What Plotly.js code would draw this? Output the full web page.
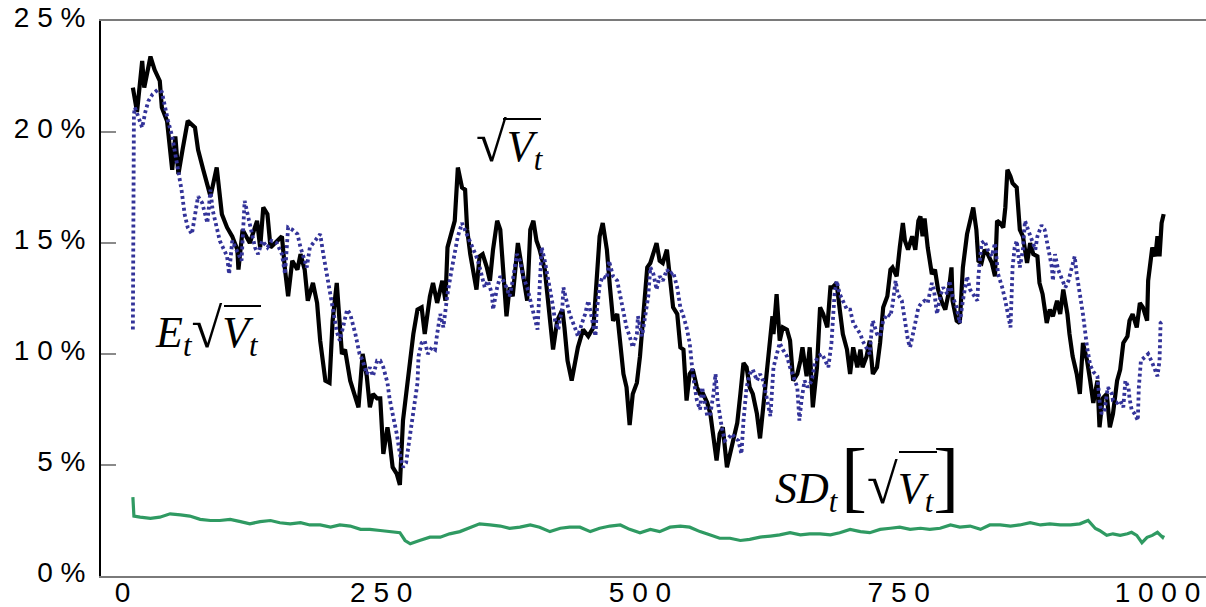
<!DOCTYPE html>
<html><head><meta charset="utf-8">
<script src="https://cdn.plot.ly/plotly-3.0.1.min.js"></script>
<style>html,body{margin:0;padding:0;background:#fff}#chart{width:1206px;height:607px}</style>
</head><body><div id="chart"></div>
<script>
// sqrt(V_t) — black solid
const volX = [10,14,19,21,27,31,36,38,43,48,51,54,58,63,70,73,78,82,85,91,96,101,106,111,112,116,123,130,133,136,140,143,149,154,157,160,164,169,172,176,179,184,188,191,196,200,203,207,212,215,220,225,228,232,236,239,242,246,249,252,256,258,261,265,268,271,275,278,281,285,289,292,297,300,304,309,312,314,318,321,324,328,331,333,336,339,342,345,348,352,355,358,362,365,368,371,374,377,382,386,391,394,397,400,403,408,413,416,420,425,427,430,434,437,440,445,450,455,458,461,464,468,471,474,478,481,484,487,490,493,497,500,503,507,510,513,516,519,522,526,529,532,536,539,542,545,548,551,555,558,561,565,568,571,574,577,580,584,587,590,594,597,600,603,606,609,613,616,619,623,626,628,629,632,635,638,642,645,648,652,655,657,661,664,667,671,674,677,681,684,686,690,693,696,700,703,706,710,713,715,719,722,725,729,732,735,739,742,744,748,751,754,756,759,763,766,769,771,773,775,778,782,785,788,792,795,798,801,802,806,809,812,816,819,822,825,827,830,833,836,840,843,845,848,851,853,855,858,860,864,867,870,874,877,880,884,886,889,893,896,899,903,906,909,913,915,918,922,925,928,932,935,938,942,944,947,951,954,957,961,964,967,971,973,976,980,983,986,990,991,995,998,1000,1002,1004,1006];
const volY = [22.0,20.9,23.2,22.0,23.4,22.8,22.3,21.1,20.5,18.3,19.8,18.1,19.2,20.5,20.2,19.2,18.3,17.7,17.1,18.4,16.3,15.7,15.3,14.7,13.8,15.6,15.0,16.0,14.8,16.6,16.3,14.8,15.1,15.3,13.8,12.6,14.2,13.8,14.5,13.8,12.4,13.2,12.3,10.6,8.8,8.7,11.5,13.2,10.0,10.2,8.8,8.0,7.6,10.0,9.0,7.6,8.2,8.0,8.0,5.5,6.7,6.1,4.9,4.6,4.1,7.0,8.5,9.6,10.9,12.0,12.1,10.9,12.6,13.2,12.3,13.3,12.4,14.8,15.6,16.0,18.4,17.5,17.4,15.6,14.5,13.6,12.9,14.4,14.5,13.9,13.3,14.7,16.0,15.6,13.8,11.7,13.0,12.6,15.0,13.8,12.4,15.6,16.0,15.1,14.7,13.8,11.8,10.2,11.5,12.0,11.2,9.7,8.8,9.7,10.3,11.1,10.8,11.2,13.2,15.3,15.9,14.7,13.0,11.5,11.8,10.6,9.1,8.5,6.8,8.2,8.7,9.9,11.7,13.9,14.1,14.5,15.0,14.2,14.1,14.7,13.2,12.1,11.8,10.3,10.2,7.9,9.1,9.3,8.5,8.2,8.2,7.8,7.3,6.4,5.2,6.4,6.7,4.9,5.5,6.1,6.9,8.2,9.6,9.4,8.5,8.2,7.3,6.2,7.6,9.4,11.2,11.7,10.9,12.7,10.6,11.2,11.1,10.6,8.8,9.1,9.7,10.3,9.0,10.3,7.6,9.4,12.1,11.8,11.2,13.0,13.0,13.2,12.0,10.9,10.2,9.1,10.3,9.4,10.2,9.4,9.9,10.6,9.1,9.4,10.5,12.1,12.6,13.8,13.9,13.5,14.8,15.9,15.1,14.7,15.3,14.7,16.0,16.2,15.3,16.1,14.8,13.6,13.8,12.9,12.3,12.0,12.7,13.9,12.4,11.5,11.4,13.9,15.4,16.0,16.6,15.6,14.2,14.1,14.7,14.5,14.1,13.5,16.0,15.9,15.7,16.6,18.3,18.0,17.7,17.5,15.6,15.3,14.1,15.0,14.5,14.4,13.2,12.7,11.4,12.0,11.7,12.4,11.8,12.9,11.8,10.9,9.9,9.1,8.2,10.5,9.7,8.8,7.8,8.8,6.7,8.0,8.2,6.7,7.3,8.8,9.3,10.5,10.8,11.5,11.8,11.2,12.3,12.1,11.5,13.3,14.8,14.4,15.3,14.4,15.9,16.3];

// E_t sqrt(V_t) — blue dotted
const estX = [10,11,12,15,19,22,25,29,34,38,41,44,48,51,54,57,60,63,67,70,73,77,80,82,85,87,91,94,97,101,103,106,109,112,115,118,121,125,128,131,135,140,144,149,154,157,160,164,169,172,174,178,181,186,191,194,197,200,203,207,210,217,220,225,229,232,236,239,242,246,249,252,256,258,261,265,268,271,274,277,281,285,286,289,292,295,299,302,304,307,310,312,314,318,321,324,328,331,334,338,341,344,347,350,353,357,358,362,365,368,371,374,377,381,384,387,391,394,397,401,403,405,408,411,415,418,421,425,426,429,432,437,440,444,447,450,454,457,458,461,464,468,470,474,478,481,484,487,490,493,497,498,502,505,508,510,513,516,519,522,526,529,532,536,539,542,545,548,551,555,558,560,563,565,568,571,573,575,579,582,585,589,592,595,598,600,603,606,609,613,616,619,623,626,629,632,635,638,642,645,648,652,654,656,659,662,666,669,672,676,679,682,685,688,690,693,696,700,703,706,710,713,715,719,722,724,725,729,732,735,739,742,744,747,749,753,756,759,761,764,766,769,772,775,778,782,784,787,790,793,797,799,802,806,809,812,816,819,822,826,827,830,833,836,840,843,846,850,853,856,858,860,862,864,867,870,872,875,879,882,884,888,891,894,898,899,901,904,908,911,914,918,920,922,925,928,932,935,938,942,944,946,949,952,956,957,961,964,967,969,972,973,975,978,981,982,984,988,991,995,998,1000,1002,1003,1006];
const estY = [11.1,20.8,21.1,20.7,20.2,20.9,21.4,21.7,21.9,21.8,21.1,20.5,19.8,19.0,18.1,17.4,16.3,15.7,15.4,16.3,17.1,16.8,16.3,15.9,17.4,16.5,15.7,15.1,14.8,14.4,13.6,15.1,14.8,14.5,14.2,16.9,16.3,15.4,14.8,14.5,15.1,14.8,15.1,15.0,14.5,13.6,15.7,15.6,15.4,14.8,14.5,13.9,14.8,15.1,15.4,14.5,13.6,12.9,12.1,11.0,10.6,12.0,11.8,10.9,10.0,9.7,9.1,9.4,9.0,9.7,9.7,9.4,8.7,8.0,7.3,6.4,5.5,4.9,5.1,6.1,7.3,8.7,9.9,10.5,10.6,10.0,10.3,10.2,10.9,11.8,11.2,12.0,12.7,13.8,14.5,15.3,15.9,15.6,15.3,14.8,14.5,14.1,13.5,13.0,13.3,12.7,12.0,13.0,13.5,13.3,13.0,12.6,13.3,14.5,14.2,13.5,13.0,12.4,11.8,11.1,13.0,14.8,14.2,13.5,12.4,11.5,11.1,12.1,13.0,12.4,11.8,11.2,10.8,11.4,11.8,12.4,11.5,10.8,11.8,13.1,13.5,13.4,14.2,13.5,13.3,12.6,11.8,11.2,10.8,10.3,10.9,11.7,10.8,11.7,12.6,13.9,13.6,12.9,13.5,13.3,13.8,13.6,13.7,13.0,12.1,11.7,11.2,10.5,9.1,7.9,7.5,8.5,7.8,7.2,7.3,8.2,9.1,7.9,6.7,6.1,6.2,6.4,6.2,6.1,5.5,7.0,8.5,9.1,9.3,8.8,9.1,8.8,7.9,7.2,9.4,10.0,10.5,10.2,9.9,9.4,9.0,8.5,7.0,7.9,8.8,8.5,8.8,9.6,9.9,10.0,9.7,9.4,10.5,12.7,13.3,12.7,12.4,12.0,12.0,11.4,11.1,10.9,10.6,10.3,10.0,11.2,11.5,10.9,10.8,11.5,11.8,11.7,12.2,13.3,12.7,12.4,11.5,10.6,10.3,10.9,11.4,12.1,12.3,12.4,12.3,13.2,12.9,11.8,12.6,13.0,12.7,13.3,12.6,12.1,11.4,12.4,13.5,12.9,12.7,12.4,13.5,15.0,15.1,14.7,14.4,15.0,13.6,13.0,12.4,11.7,11.2,13.9,14.8,15.1,13.9,14.7,16.0,15.6,15.1,14.7,15.3,15.8,15.6,14.8,13.9,13.3,14.5,13.8,13.3,13.0,13.3,14.1,14.4,13.6,12.8,11.8,10.3,9.5,9.2,9.0,7.9,7.3,7.5,8.5,8.2,7.9,7.8,7.9,7.6,8.8,8.5,8.0,7.5,7.3,7.0,8.5,9.7,9.9,10.0,9.6,9.3,9.0,9.7,11.4,11.5];

// SD_t[sqrt(V_t)] — green
const sdX = [10,11,17,27,36,46,56,65,75,85,94,104,114,123,133,143,152,162,172,181,191,201,210,220,230,239,249,258,268,273,278,287,297,307,316,326,336,345,355,365,374,384,394,403,413,423,432,442,452,461,471,481,490,500,510,519,529,539,548,558,568,577,587,597,606,616,626,635,645,655,664,674,684,693,703,713,722,732,742,751,761,771,780,790,800,809,819,829,838,848,858,867,877,887,896,906,916,925,933,940,944,951,957,964,971,975,980,985,990,995,1000,1005,1006];
const sdY = [3.55,2.7,2.65,2.6,2.65,2.8,2.75,2.7,2.55,2.5,2.5,2.55,2.45,2.35,2.45,2.5,2.4,2.35,2.4,2.3,2.3,2.2,2.3,2.25,2.1,2.1,2.05,2.0,1.95,1.6,1.45,1.6,1.75,1.75,1.9,2.0,2.2,2.35,2.3,2.25,2.15,2.2,2.3,2.2,2.0,2.15,2.2,2.2,2.0,2.15,2.25,2.3,2.1,1.95,2.1,2.0,2.2,2.25,2.2,2.0,1.85,1.7,1.7,1.6,1.65,1.75,1.8,1.85,1.95,1.85,1.9,1.9,1.85,1.95,2.1,2.0,1.95,2.1,2.15,2.2,2.1,2.15,2.1,2.15,2.3,2.2,2.25,2.1,2.3,2.3,2.25,2.3,2.4,2.3,2.35,2.3,2.3,2.35,2.5,2.14,2.05,1.83,1.9,1.83,1.9,1.97,1.83,1.5,1.74,1.83,1.97,1.74,1.83];

const yTickVals = [0,5,10,15,20,25];
const yTickText = ['0 %','5 %','1 0 %','1 5 %','2 0 %','2 5 %'];
const xTickVals = [0,250,500,750,1000];
const xTickText = ['0','2 5 0','5 0 0','7 5 0','1 0 0 0'];

// layout helpers (pixel -> paper)
const L = 101, T = 21, PW = 1105, PH = 555;
const px = v => (v - L) / PW;
const py = v => (T + PH - v) / PH;

const traces = [
  {x: sdX, y: sdY, type: 'scatter', mode: 'lines', line: {color: '#2f9a62', width: 3.2}, hoverinfo: 'skip'},
  {x: volX, y: volY, type: 'scatter', mode: 'lines', line: {color: '#000000', width: 4.2}, hoverinfo: 'skip'},
  {x: estX, y: estY, type: 'scatter', mode: 'lines', line: {color: '#333399', width: 3.8, dash: '3px,3px'}, hoverinfo: 'skip'}
];

const mathFont = {family: 'Liberation Serif, Times New Roman, serif', size: 44, color: '#000'};
const ann = (x, y, text, extra) => Object.assign({xref: 'paper', yref: 'paper', x: px(x), y: py(y), xanchor: 'left', yanchor: 'middle', text: text, showarrow: false, font: mathFont}, extra || {});
const RAD = '<span style="font-size:56px">√</span>';
const BR = s => '<span style="font-family:Liberation Serif;font-size:78px">' + s + '</span>';

const layout = {
  width: 1206, height: 607,
  margin: {l: L, r: 0, t: T, b: 607 - T - PH},
  paper_bgcolor: '#fff', plot_bgcolor: '#fff',
  showlegend: false,
  font: {family: 'Liberation Sans, Arial, sans-serif', size: 28, color: '#000'},
  xaxis: {
    range: [-20.8, 1046.9], showgrid: false, zeroline: false,
    tickvals: xTickVals, ticktext: xTickText, ticks: '',
    showline: true, mirror: true, linecolor: '#7a7a7a', linewidth: 2,
    ticklabelstandoff: -10,
    tickfont: {size: 28, color: '#000'}
  },
  yaxis: {
    range: [0, 25], showgrid: false, zeroline: false,
    tickvals: yTickVals, ticktext: yTickText,
    ticks: 'inside', ticklen: 15, tickwidth: 2, tickcolor: '#8a8a8a',
    showline: true, linecolor: '#000', linewidth: 2,
    ticklabelstandoff: 8, ticklabelshift: -4,
    tickfont: {size: 28, color: '#000'}
  },
  annotations: [
    ann(474, 144, RAD + '<i>V</i><sub><i>t</i></sub>'),
    ann(153, 330, '<i>E</i><sub><i>t</i></sub>' + RAD + '<i>V</i><sub><i>t</i></sub>'),
    ann(773, 476, '<i>SD</i><sub><i>t</i></sub>\u200A' + BR('[') + RAD + '<i>V</i><sub><i>t</i></sub>' + BR(']'))
  ],
  shapes: [
    {type: 'line', xref: 'paper', yref: 'paper', x0: px(503), x1: px(541), y0: py(119), y1: py(119), line: {color: '#000', width: 2}},
    {type: 'line', xref: 'paper', yref: 'paper', x0: px(224), x1: px(261), y0: py(306), y1: py(306), line: {color: '#000', width: 2}},
    {type: 'line', xref: 'paper', yref: 'paper', x0: px(899), x1: px(937), y0: py(452), y1: py(452), line: {color: '#000', width: 2}}
  ]
};

Plotly.newPlot('chart', traces, layout, {displayModeBar: false, staticPlot: true});
</script>
</body></html>
